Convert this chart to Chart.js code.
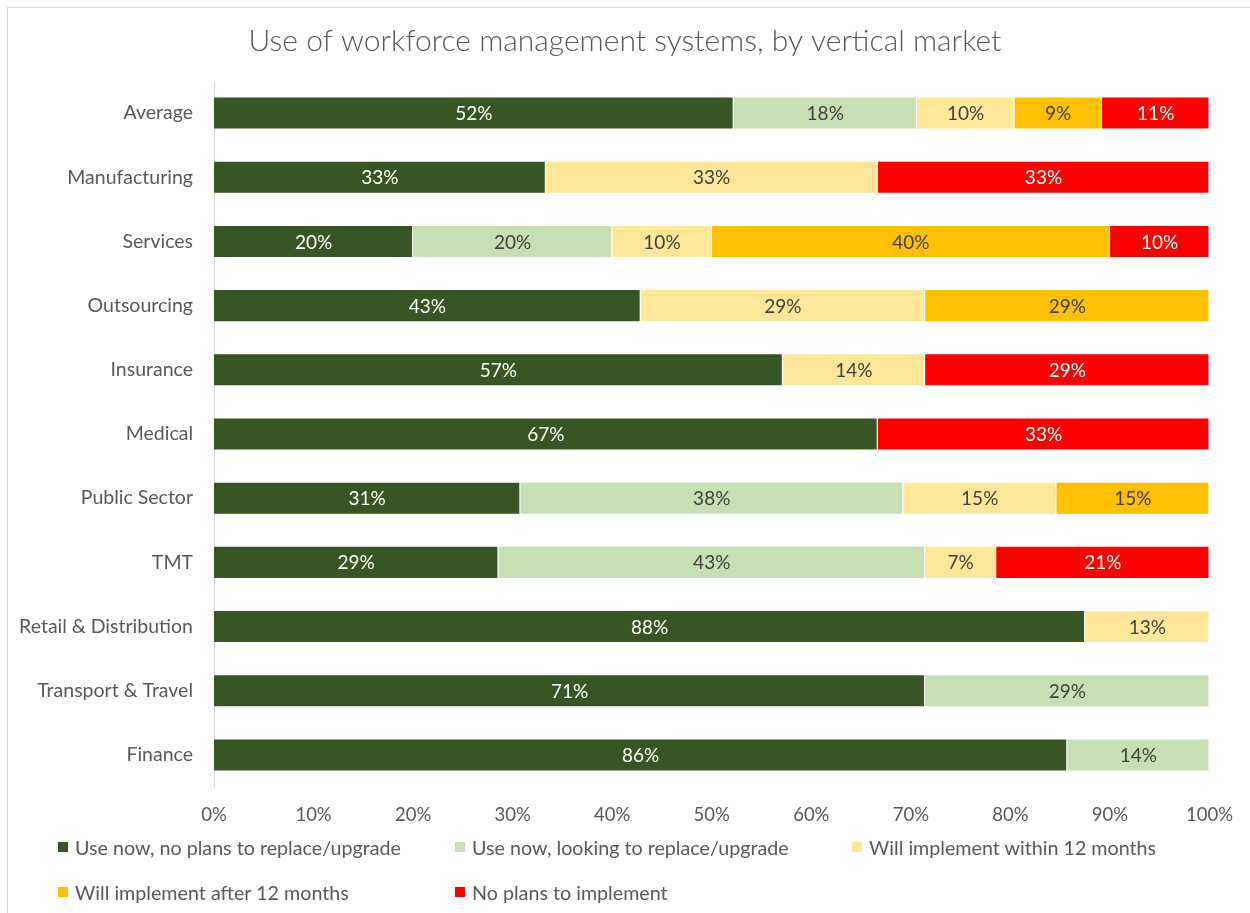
<!DOCTYPE html>
<html>
<head>
<meta charset="utf-8">
<title>Use of workforce management systems, by vertical market</title>
<script src="https://cdn.jsdelivr.net/npm/chart.js@4"></script>
<style>
  html, body { margin: 0; padding: 0; background: #fff; }
  #wrap { position: relative; width: 1250px; height: 913px; }
  #frame {
    position: absolute; left: 7px; top: 7px; right: -10px; bottom: -10px;
    border-top: 1px solid #d9d9d9; border-left: 1px solid #d9d9d9;
    pointer-events: none;
  }
  #legend {
    position: absolute; left: 58px; top: 836px;
    display: grid; grid-template-columns: 397px 397px 397px; grid-auto-rows: 45px;
    font-family: Lato, "Open Sans", sans-serif; font-size: 19.7px; color: #595959;
  }
  .item { display: flex; align-items: center; height: 22px; white-space: nowrap; }
  .box { width: 10px; height: 10px; margin-right: 7px; flex: none; }
</style>
</head>
<body>
<div id="wrap">
  <canvas id="chart" width="1250" height="913"></canvas>
  <div id="frame"></div>
  <div id="legend"></div>
</div>
<script>
const categories = ["Average", "Manufacturing", "Services", "Outsourcing", "Insurance", "Medical",
  "Public Sector", "TMT", "Retail & Distribution", "Transport & Travel", "Finance"];

// shares in %
const useNoPlans = [52.2, 33.33, 20, 42.86, 57.14, 66.67, 30.77, 28.57, 87.5, 71.43, 85.71];
const useLooking = [18.4, 0, 20, 0, 0, 0, 38.46, 42.86, 0, 28.57, 14.29];
const within12   = [9.8, 33.33, 10, 28.57, 14.29, 0, 15.38, 7.14, 12.5, 0, 0];
const after12    = [8.8, 0, 40, 28.57, 0, 0, 15.38, 0, 0, 0, 0];
const noPlans    = [10.8, 33.33, 10, 0, 28.57, 33.33, 0, 21.43, 0, 0, 0];

const seriesNames = ["Use now, no plans to replace/upgrade", "Use now, looking to replace/upgrade",
  "Will implement within 12 months", "Will implement after 12 months", "No plans to implement"];
const seriesColors = ["#375623", "#c6e0b4", "#ffe699", "#ffc000", "#ff0000"];
const labelColors = ["#ffffff", "#404040", "#404040", "#404040", "#ffffff"];

const FONT = "Lato, 'Open Sans', sans-serif";

const seriesData = [useNoPlans, useLooking, within12, after12, noPlans];
const datasets = seriesData.map((d, i) => ({
  label: seriesNames[i],
  data: d,
  backgroundColor: seriesColors[i],
  borderColor: "rgba(255,255,255,0.7)",
  borderWidth: 1,
  barPercentage: 1,
  categoryPercentage: 0.515
}));

// value labels in the middle of each segment
const barLabels = {
  id: "barLabels",
  afterDatasetsDraw(chart) {
    const ctx = chart.ctx;
    ctx.save();
    ctx.font = "19px " + FONT;
    ctx.textAlign = "center";
    ctx.textBaseline = "middle";
    chart.data.datasets.forEach((ds, i) => {
      const meta = chart.getDatasetMeta(i);
      meta.data.forEach((bar, j) => {
        const v = ds.data[j];
        if (!v) return;
        const p = bar.getCenterPoint();
        ctx.fillStyle = labelColors[i];
        ctx.fillText(Math.round(v) + "%", p.x, p.y + 1);
      });
    });
    ctx.restore();
  }
};

new Chart(document.getElementById("chart"), {
  type: "bar",
  data: { labels: categories, datasets: datasets },
  plugins: [barLabels],
  options: {
    indexAxis: "y",
    responsive: false,
    animation: false,
    layout: { padding: { left: 0, right: 0, top: 0, bottom: 86 } },
    plugins: {
      legend: { display: false },
      tooltip: { enabled: false },
      title: {
        display: true,
        text: "Use of workforce management systems, by vertical market",
        color: "#595959",
        font: { family: FONT, size: 30, weight: "300" },
        padding: { top: 23, bottom: 22 }
      }
    },
    scales: {
      x: {
        stacked: true,
        min: 0,
        max: 100,
        ticks: {
          stepSize: 10,
          color: "#595959",
          font: { family: FONT, size: 18.5 },
          padding: 17,
          callback: v => v + "%"
        },
        grid: { display: false, drawTicks: false },
        border: { display: false },
        afterFit: s => { s.height = 40; }
      },
      y: {
        stacked: true,
        ticks: {
          color: "#595959",
          font: { family: FONT, size: 19.5 },
          padding: 21
        },
        grid: { display: false, drawTicks: false },
        border: { display: true, color: "#d9d9d9" },
        afterFit: s => { s.width = 214; }
      },
      // empty spacer on the right so the plot ends where the original does
      yRight: {
        type: "category",
        position: "right",
        ticks: { display: false },
        grid: { display: false, drawTicks: false },
        border: { display: false },
        afterFit: s => { s.width = 39; }
      }
    }
  }
});

// legend laid out in equal columns, as in the original
const legend = document.getElementById("legend");
seriesNames.forEach((name, i) => {
  const item = document.createElement("div");
  item.className = "item";
  const box = document.createElement("span");
  box.className = "box";
  box.style.background = seriesColors[i];
  const txt = document.createElement("span");
  txt.textContent = name;
  item.appendChild(box);
  item.appendChild(txt);
  legend.appendChild(item);
});
</script>
</body>
</html>
